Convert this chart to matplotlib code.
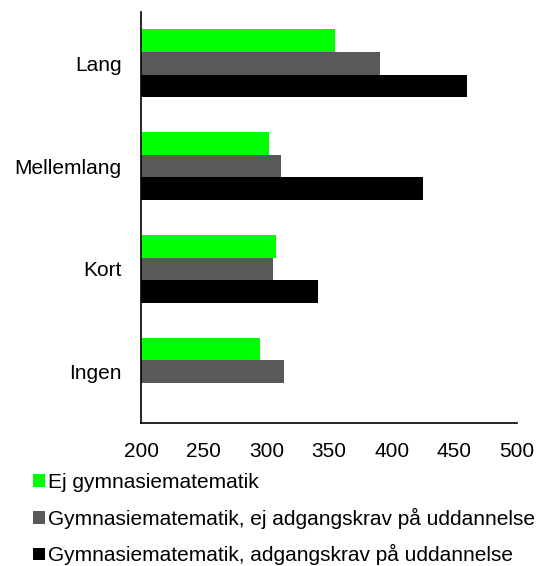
import matplotlib
matplotlib.use("Agg")
import matplotlib.pyplot as plt
import numpy as np

plt.rcParams['font.family'] = ['Liberation Sans', 'DejaVu Sans']

categories = ["Ingen", "Kort", "Mellemlang", "Lang"]
series_names = [
    "Ej gymnasiematematik",
    "Gymnasiematematik, ej adgangskrav på uddannelse",
    "Gymnasiematematik, adgangskrav på uddannelse",
]
ej_gym = [295, 308, 302, 355]
gym_ej_krav = [314, 305, 312, 391]
gym_krav = [np.nan, 341, 425, 460]
colors = ["#00FF00", "#595959", "#000000"]
xticks = [200, 250, 300, 350, 400, 450, 500]

fig = plt.figure(figsize=(5.46, 5.66), dpi=100)
ax = fig.add_axes([141/546, 1 - 423/566, (517-141)/546, (423-12)/566])

y = np.arange(len(categories))
h = 0.22
series = [ej_gym, gym_ej_krav, gym_krav]
handles = []
for i, (vals, c, name) in enumerate(zip(series, colors, series_names)):
    offs = (1 - i) * h
    vals = np.array(vals, dtype=float)
    b = ax.barh(y + offs, vals - 200, left=200, height=h, color=c, label=name)
    handles.append(b)

ax.set_xlim(200, 500)
ax.set_ylim(-0.5, 3.5)
ax.set_yticks(y)
ax.set_yticklabels(categories)
ax.set_xticks(xticks)
ax.set_xticklabels([str(t) for t in xticks])
ax.tick_params(axis='both', length=0, labelsize=15)
ax.tick_params(axis='y', pad=14)
ax.tick_params(axis='x', pad=14)
for s in ['top', 'right']:
    ax.spines[s].set_visible(False)
for s in ['left', 'bottom']:
    ax.spines[s].set_linewidth(1.2)
    ax.spines[s].set_color('black')

fig.legend(handles=handles, labels=series_names, loc='upper left',
           bbox_to_anchor=(33/546, 1 - 473/566), frameon=False, fontsize=15,
           handlelength=0.57, handleheight=0.57, handletextpad=0.15,
           labelspacing=0.75, borderpad=0, borderaxespad=0)

fig.savefig("out.png", dpi=100)
